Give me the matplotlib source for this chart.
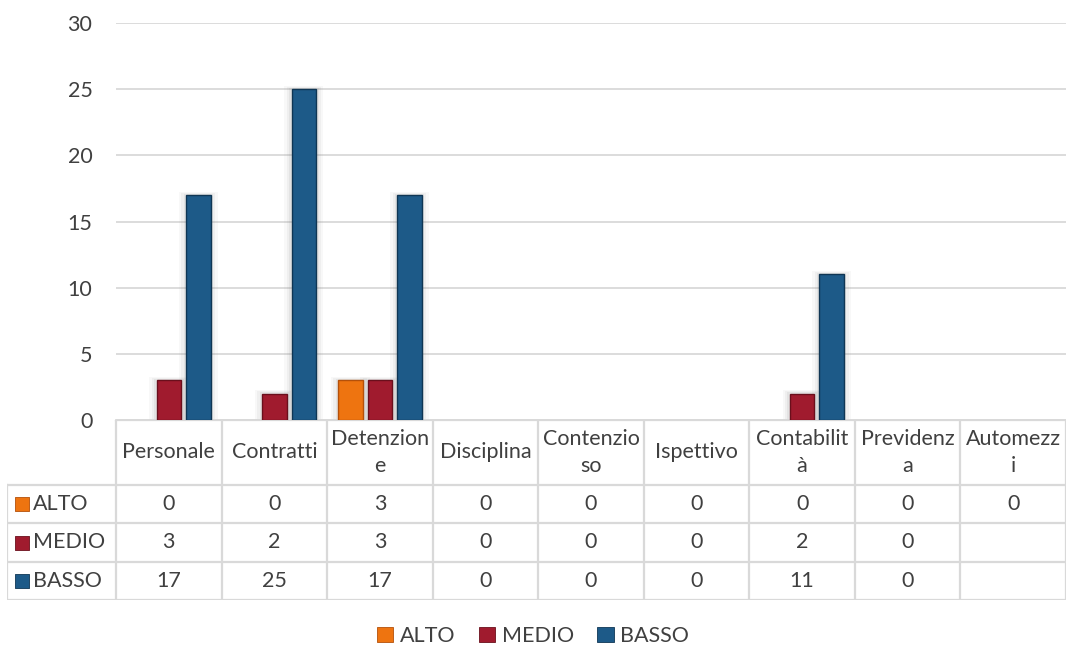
import numpy as np
import matplotlib.pyplot as plt
from matplotlib.patches import Patch

# dati per area
categorie = ['Personale', 'Contratti', 'Detenzione', 'Disciplina', 'Contenzioso',
             'Ispettivo', 'Contabilità', 'Previdenza', 'Automezzi']
intestazioni = ['Personale', 'Contratti', 'Detenzion\ne', 'Disciplina', 'Contenzio\nso',
                'Ispettivo', 'Contabilit\nà', 'Previdenz\na', 'Automezz\ni']
livelli = ['ALTO', 'MEDIO', 'BASSO']
alto = [0, 0, 3, 0, 0, 0, 0, 0, 0]
medio = [3, 2, 3, 0, 0, 0, 2, 0, None]
basso = [17, 25, 17, 0, 0, 0, 11, 0, None]
colori = ['#EE7410', '#A01B2E', '#1D5A88']
bordi = ['#B4500A', '#6A0F1C', '#0F3654']

plt.rcParams['font.family'] = ['Lato', 'DejaVu Sans']
testo = '#404040'
griglia = '#D9D9D9'
fs = 15.5

W, H = 1066, 645
fig = plt.figure(figsize=(W / 100, H / 100), dpi=100)

x0 = 116
ax = fig.add_axes([x0 / W, 1 - 420 / H, 1 - x0 / W, (420 - 23) / H])
ax.set_xlim(0, 9)
ax.set_ylim(0, 30)
ax.set_yticks(range(0, 31, 5))
ax.yaxis.grid(True, color=griglia, lw=1.3)
ax.set_axisbelow(True)
ax.set_xticks([])
ax.tick_params(axis='y', length=0, pad=17, labelsize=fs, labelcolor=testo)
for s in ['top', 'right', 'left']:
    ax.spines[s].set_visible(False)
ax.spines['bottom'].set_color(griglia)
ax.spines['bottom'].set_linewidth(1.3)

pos = np.arange(9) + 0.5
larg = 0.232
passo = 0.28
for k, serie in enumerate([alto, medio, basso]):
    v = np.array([0 if x is None else x for x in serie], dtype=float)
    xs = pos + (k - 1) * passo
    m = v > 0
    # ombra morbida attorno alle barre
    for i, (a, w) in enumerate([(0.05, 0.37), (0.07, 0.32), (0.10, 0.28)]):
        ax.bar(xs[m], v[m] + 0.25 - i * 0.08, width=w, color='#808080', alpha=a, lw=0, zorder=2)
    ax.bar(xs[m], v[m], width=larg, color=colori[k], edgecolor=bordi[k], lw=1, zorder=3)

# tabella dati sotto il grafico
col = (W - x0) / 9
xl = -(x0 - 7) / col
tb = fig.add_axes([7 / W, 1 - 600 / H, 1 - 7 / W, (600 - 420) / H])
tb.set_xlim(xl, 9)
tb.set_ylim(180, 0)
tb.axis('off')
righe = [0, 65, 103, 142, 180]
lw = 1.6
tb.plot([0, 0], [0, 180], color=griglia, lw=lw)
for j in range(1, 10):
    tb.plot([j, j], [0, 180], color=griglia, lw=lw)
tb.plot([xl, xl], [65, 180], color=griglia, lw=lw)
tb.plot([0, 9], [0, 0], color=griglia, lw=lw)
for y in righe[1:]:
    tb.plot([xl, 9], [y, y], color=griglia, lw=lw)

for j, lab in enumerate(intestazioni):
    tb.text(j + 0.5, 32.5, lab, ha='center', va='center', fontsize=fs,
            color=testo, linespacing=1.45)

for r, (nome, serie) in enumerate(zip(livelli, [alto, medio, basso])):
    yc = (righe[r + 1] + righe[r + 2]) / 2
    tb.scatter([xl + 0.145], [yc], marker='s', s=100, color=colori[r],
               edgecolor=bordi[r], lw=0.6, zorder=3)
    tb.text(xl + 0.25, yc, nome, ha='left', va='center', fontsize=fs, color=testo)
    for j, v in enumerate(serie):
        if v is not None:
            tb.text(j + 0.5, yc, str(v), ha='center', va='center', fontsize=fs, color=testo)

maniglie = [Patch(facecolor=c, edgecolor=b, lw=0.6) for c, b in zip(colori, bordi)]
fig.legend(maniglie, livelli, loc='center', bbox_to_anchor=(533 / W, 1 - 636 / H),
           ncol=3, frameon=False, fontsize=fs, handlelength=0.75, handleheight=0.75,
           handletextpad=0.3, columnspacing=1.1, labelcolor=testo)

fig.savefig('out.png', dpi=100)
